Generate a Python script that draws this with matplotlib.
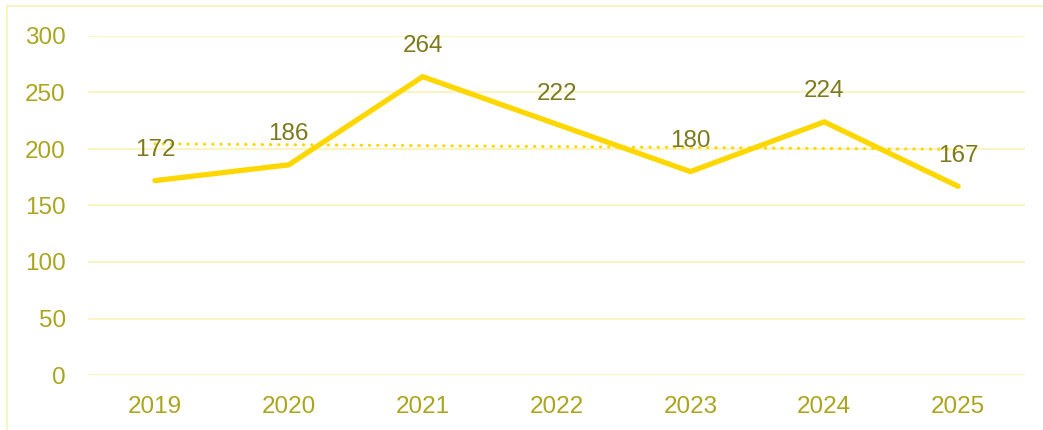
import matplotlib.pyplot as plt
import numpy as np
from matplotlib.lines import Line2D

years = ["2019", "2020", "2021", "2022", "2023", "2024", "2025"]
values = [172, 186, 264, 222, 180, 224, 167]
yticks = [0, 50, 100, 150, 200, 250, 300]

line_col = "#FFD700"
tick_col = "#ABA51E"
label_col = "#7D7A1E"
grid_col = "#FAF4C2"

plt.rcParams["font.family"] = ["Liberation Sans", "DejaVu Sans"]

fig = plt.figure(figsize=(10.43, 4.30), dpi=100)
ax = fig.add_axes([88 / 1043, 1 - 375 / 430, 937 / 1043, 339 / 430])

x = np.arange(len(years))
ax.plot(x, values, color=line_col, lw=3.8, solid_capstyle="round", solid_joinstyle="miter", zorder=3)

# linear trendline
k, b = np.polyfit(x, values, 1)
ax.plot(x, k * x + b, color=line_col, lw=2.2, linestyle=(0, (0.1, 2.6)), dash_capstyle="round", zorder=2)

for xi, v in zip(x, values):
    ax.annotate(str(v), (xi, v), xytext=(0, 22), textcoords="offset points",
                ha="center", va="center", fontsize=17.5, color=label_col, zorder=4)

ax.set_xlim(-0.5, len(years) - 0.5)
ax.set_ylim(0, 300)
ax.set_yticks(yticks)
ax.set_xticks(x)
ax.set_xticklabels(years)
ax.tick_params(axis="both", length=0, labelsize=17.5, labelcolor=tick_col)
ax.tick_params(axis="x", pad=15)
ax.tick_params(axis="y", pad=16)
ax.grid(axis="y", color=grid_col, lw=1.5)
ax.set_axisbelow(True)
for s in ax.spines.values():
    s.set_visible(False)

# outer chart border
fig.add_artist(Line2D([7 / 1043, 7 / 1043], [0, 1 - 6 / 430], color=grid_col, lw=1.5))
fig.add_artist(Line2D([7 / 1043, 1], [1 - 6 / 430, 1 - 6 / 430], color=grid_col, lw=1.5))

fig.savefig("out.png", dpi=100)
